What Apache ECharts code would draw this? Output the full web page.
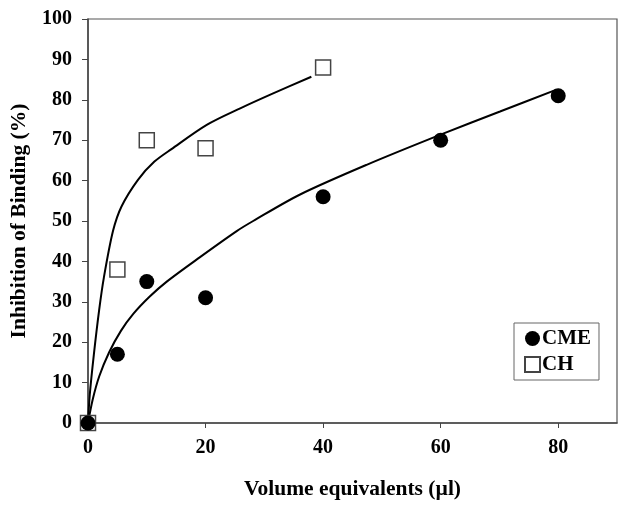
<!DOCTYPE html>
<html>
<head>
<meta charset="utf-8">
<script src="https://cdn.jsdelivr.net/npm/echarts@6/dist/echarts.min.js"></script>
<style>html,body{margin:0;padding:0;background:#fff}#c{width:629px;height:508px}</style>
</head>
<body>
<div id="c"></div>
<script>
// measured data
var cmeX = [0, 5, 10, 20, 40, 60, 80];
var cmeY = [0, 17, 35, 31, 56, 70, 81];
var chX = [0, 5, 10, 20, 40];
var chY = [0, 38, 70, 68, 88];
// fitted trend curves
var cmeTrendX = [0, 0.8, 1.9, 3.6, 5.6, 7.7, 10.5, 13.4, 19, 25.3, 28.1, 36, 47.4, 60.2, 70.1, 79.5];
var cmeTrendY = [0, 5.8, 11.5, 17.5, 22.8, 27, 31.3, 35, 41, 47.5, 50, 56.5, 63.9, 71.5, 77.1, 82.4];
var chTrendX = [0, 0.3, 1.0, 1.9, 2.7, 4.25, 5.7, 8.5, 11.3, 14.2, 20.2, 25.9, 31.5, 38];
var chTrendY = [0, 7, 17, 28, 36, 47.5, 53.6, 60.2, 64.7, 67.8, 73.8, 77.9, 81.6, 85.7];
var xTicks = [0, 20, 40, 60, 80];
var yTicks = [0, 10, 20, 30, 40, 50, 60, 70, 80, 90, 100];

function zip(a, b) { return a.map(function (v, i) { return [v, b[i]]; }); }

var font = 'Liberation Serif';
var chart = echarts.init(document.getElementById('c'));
chart.setOption({
  animation: false,
  backgroundColor: '#fff',
  grid: { left: 88, right: 12, top: 19, bottom: 85, show: true, borderColor: '#555', borderWidth: 1.2 },
  legend: {
    data: ['CME', 'CH'],
    orient: 'vertical',
    left: 514, top: 323,
    padding: [5, 8, 5, 10],
    itemGap: 5,
    itemWidth: 15, itemHeight: 15,
    borderColor: '#666', borderWidth: 1,
    backgroundColor: '#fff',
    textStyle: { fontFamily: font, fontWeight: 'bold', fontSize: 21, color: '#000', padding: [0, 0, 0, -3] }
  },
  xAxis: {
    type: 'value', min: 0, max: 90,
    splitLine: { show: false },
    axisLine: { lineStyle: { color: '#444', width: 1.5 } },
    axisTick: { inside: false, length: 5, customValues: xTicks, lineStyle: { color: '#444' } },
    axisLabel: { customValues: xTicks, margin: 15, fontFamily: font, fontWeight: 'bold', fontSize: 20, color: '#000' },
    name: 'Volume equivalents (\u00b5l)', nameLocation: 'middle', nameGap: 55,
    nameTextStyle: { fontFamily: font, fontWeight: 'bold', fontSize: 21.5, color: '#000' }
  },
  yAxis: {
    type: 'value', min: 0, max: 100,
    splitLine: { show: false },
    axisLine: { lineStyle: { color: '#444', width: 1.5 } },
    axisTick: { inside: false, length: 6, customValues: yTicks, lineStyle: { color: '#444' } },
    axisLabel: { customValues: yTicks, margin: 16, fontFamily: font, fontWeight: 'bold', fontSize: 20, color: '#000' },
    name: 'Inhibition of Binding (%)', nameLocation: 'middle', nameGap: 58, nameRotate: 90,
    nameTextStyle: { fontFamily: font, fontWeight: 'bold', fontSize: 21.5, color: '#000' }
  },
  series: [
    { name: 'CHfit', type: 'line', data: zip(chTrendX, chTrendY), smooth: 0.3, showSymbol: false,
      lineStyle: { color: '#000', width: 2 }, silent: true, z: 2 },
    { name: 'CMEfit', type: 'line', data: zip(cmeTrendX, cmeTrendY), smooth: 0.3, showSymbol: false,
      lineStyle: { color: '#000', width: 2 }, silent: true, z: 2 },
    { name: 'CH', type: 'scatter', data: zip(chX, chY), symbol: 'rect', symbolSize: 15,
      itemStyle: { color: '#fff', borderColor: '#444', borderWidth: 1.5, opacity: 1 }, z: 3 },
    { name: 'CME', type: 'scatter', data: zip(cmeX, cmeY), symbol: 'circle', symbolSize: 15,
      itemStyle: { color: '#000', opacity: 1 }, z: 4 }
  ]
});
</script>
</body>
</html>
